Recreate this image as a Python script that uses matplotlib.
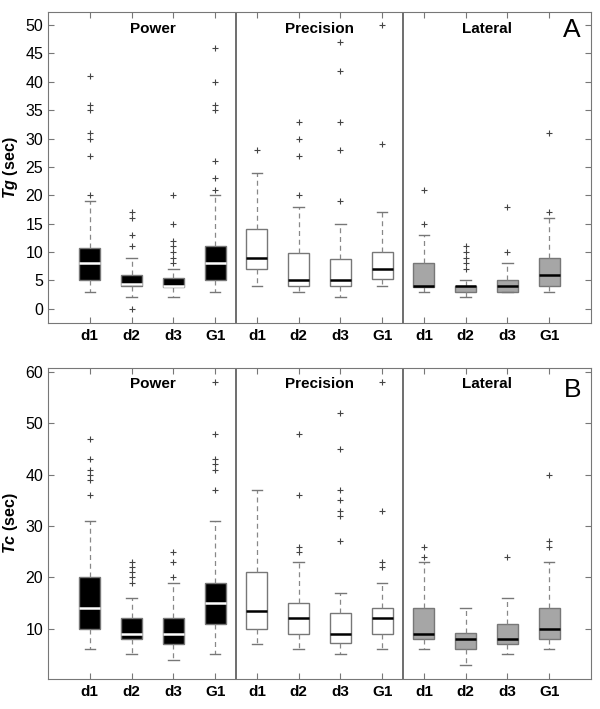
import matplotlib
matplotlib.use('Agg')
import matplotlib.pyplot as plt

plt.rcParams['font.family'] = ['Liberation Sans', 'DejaVu Sans']
plt.rcParams['mathtext.fontset'] = 'custom'
plt.rcParams['mathtext.bfit'] = 'Liberation Sans:italic:bold'
plt.rcParams['mathtext.rm'] = 'Liberation Sans'

groups = ['Power', 'Precision', 'Lateral']
tick_labels = ['d1', 'd2', 'd3', 'G1'] * 3

# Panel A: Tg (sec) -- per box: whislo, q1, med, q3, whishi, fliers
tg_whislo = [3, 2, 2, 3, 4, 3, 2, 4, 3, 2, 3, 3]
tg_q1 = [5, 4, 3.8, 5, 7, 4, 4, 5.3, 3.8, 3, 3, 4]
tg_med = [8, 4.3, 4.1, 8, 9, 5, 5, 7, 4, 4, 4.1, 6]
tg_q3 = [10.8, 6, 5.5, 11, 14, 9.8, 8.8, 10, 8, 4.1, 5, 9]
tg_whishi = [19, 9, 7, 20, 24, 18, 15, 17, 13, 5, 8, 16]
tg_fliers = [
    [20, 27, 30, 31, 35, 36, 41],
    [0, 11, 13, 16, 17],
    [8, 9, 10, 11, 12, 15, 20],
    [21, 23, 26, 35, 36, 40, 46],
    [28],
    [20, 27, 30, 33],
    [19, 28, 33, 42, 47],
    [29, 50],
    [15, 21],
    [7, 8, 9, 10, 11],
    [10, 18],
    [17, 31],
]

# Panel B: Tc (sec)
tc_whislo = [6, 5, 4, 5, 7, 6, 5, 6, 6, 3, 5, 6]
tc_q1 = [10, 8, 7, 11, 10, 9, 7.2, 9, 8, 6, 7, 8]
tc_med = [14, 9, 9, 15, 13.5, 12, 9, 12, 9, 8, 8, 10]
tc_q3 = [20, 12, 12, 19, 21, 15, 13, 14, 14, 9.2, 11, 14]
tc_whishi = [31, 16, 19, 31, 37, 23, 17, 19, 23, 14, 16, 23]
tc_fliers = [
    [36, 39, 40, 41, 43, 47],
    [19, 20, 21, 22, 23],
    [20, 23, 25],
    [37, 41, 42, 43, 48, 58],
    [],
    [25, 26, 36, 48],
    [27, 32, 33, 35, 37, 45, 52],
    [22, 23, 33, 58],
    [24, 26],
    [],
    [24],
    [26, 27, 40],
]

face_colors = ['black'] * 4 + ['white'] * 4 + ['#a6a6a6'] * 4
median_colors = ['white'] * 4 + ['black'] * 8


def draw_panel(ax, whislo, q1, med, q3, whishi, fliers, ylabel, letter, ylim, yticks,
               title_y, letter_y):
    stats = []
    for i in range(12):
        stats.append({'whislo': whislo[i], 'q1': q1[i], 'med': med[i],
                      'q3': q3[i], 'whishi': whishi[i], 'fliers': fliers[i]})
    positions = list(range(1, 13))
    bp = ax.bxp(stats, positions=positions, widths=0.5, patch_artist=True,
                showfliers=True,
                boxprops=dict(edgecolor='#777777', linewidth=1.0),
                whiskerprops=dict(color='#888888', linestyle=(0, (4, 3)), linewidth=0.9),
                capprops=dict(color='#777777', linewidth=1.0),
                flierprops=dict(marker='+', markeredgecolor='#444444',
                                markersize=5, markeredgewidth=0.8, linestyle='none'))
    for i, box in enumerate(bp['boxes']):
        box.set_facecolor(face_colors[i])
    for i, m in enumerate(bp['medians']):
        m.set_color(median_colors[i])
        m.set_linewidth(1.8)
    for c in bp['caps']:
        x = c.get_xdata()
        mid = (x[0] + x[1]) / 2
        c.set_xdata([mid - 0.125, mid + 0.125])

    ax.axvline(4.5, color='#555555', linewidth=1.2)
    ax.axvline(8.5, color='#555555', linewidth=1.2)

    ax.set_xlim(0, 13)
    ax.set_ylim(*ylim)
    ax.set_yticks(yticks)
    ax.set_xticks(positions)
    ax.set_xticklabels(tick_labels, fontweight='bold', fontsize=11)
    ax.tick_params(axis='both', direction='in', top=True, right=True,
                   length=4, color='#777777', labelsize=11.5)
    ax.tick_params(axis='x', labelsize=11, pad=4)
    for s in ax.spines.values():
        s.set_color('#777777')

    for name, xc in zip(groups, [2.5, 6.5, 10.5]):
        ax.text(xc, title_y, name, transform=ax.get_xaxis_transform(),
                ha='center', va='center', fontsize=11, fontweight='bold')
    ax.text(12.55, letter_y, letter, transform=ax.get_xaxis_transform(),
            ha='center', va='center', fontsize=19)
    ax.set_ylabel(ylabel, fontsize=11.5, fontweight='bold', labelpad=4)


fig = plt.figure(figsize=(6, 7.09), dpi=100)
ax_a = fig.add_axes([0.08, 0.5444, 0.905, 0.4386])
ax_b = fig.add_axes([0.08, 0.0423, 0.905, 0.4387])

draw_panel(ax_a, tg_whislo, tg_q1, tg_med, tg_q3, tg_whishi, tg_fliers,
           r'$\mathbfit{Tg}$ (sec)', 'A', (-2.5, 52.3), range(0, 51, 5), 0.945, 0.943)
draw_panel(ax_b, tc_whislo, tc_q1, tc_med, tc_q3, tc_whishi, tc_fliers,
           r'$\mathbfit{Tc}$ (sec)', 'B', (0.2, 60.8), range(10, 61, 10), 0.948, 0.93)

fig.savefig('out.png', dpi=100)
